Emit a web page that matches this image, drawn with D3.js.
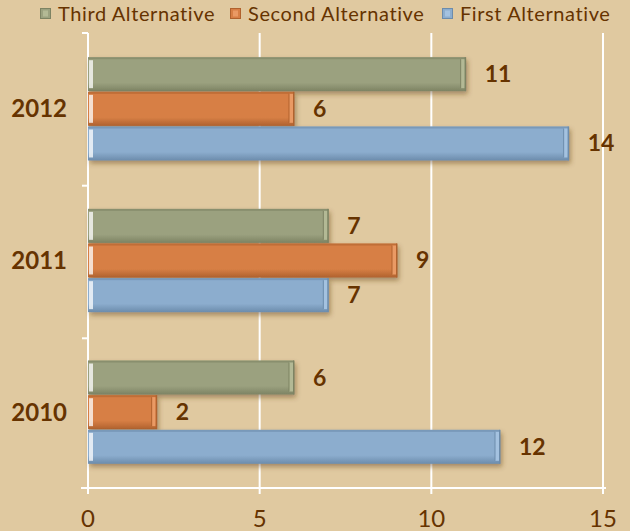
<!DOCTYPE html>
<html>
<head>
<meta charset="utf-8">
<script src="https://cdn.jsdelivr.net/npm/d3@7"></script>
<style>
  body { margin: 0; background: #e0c9a0; }
  svg { display: block; }
</style>
</head>
<body>
<div id="chart"></div>
<script>
var years = ['2012', '2011', '2010'];
var seriesNames = ['Third Alternative', 'Second Alternative', 'First Alternative'];
var thirdAlt = [11, 7, 6];
var secondAlt = [6, 9, 2];
var firstAlt = [14, 7, 12];
var xTicks = [0, 5, 10, 15];

var width = 630, height = 531;
var font = 'Lato, "DejaVu Sans", sans-serif';
var colors = {
  'Third Alternative': ['#b3b995', '#9ba17f', '#7d8363'],
  'Second Alternative': ['#ea9a64', '#d77f45', '#b0622e'],
  'First Alternative': ['#a4c2e0', '#8cadce', '#6c8cac']
};
var textCol = '#663300';

var svg = d3.select('#chart').append('svg')
            .attr('width', width)
            .attr('height', height);

var defs = svg.append('defs');
seriesNames.forEach(function(s, i) {
  var g = defs.append('linearGradient').attr('id', 'grad' + i)
              .attr('x1', 0).attr('y1', 0).attr('x2', 0).attr('y2', 1);
  g.append('stop').attr('offset', '0%').attr('stop-color', colors[s][1]);
  g.append('stop').attr('offset', '75%').attr('stop-color', colors[s][1]);
  g.append('stop').attr('offset', '100%').attr('stop-color', colors[s][2]);
});
var shadow = defs.append('filter').attr('id', 'shadow')
                 .attr('x', '-5%').attr('y', '-20%').attr('width', '115%').attr('height', '160%');
shadow.append('feDropShadow').attr('dx', 2).attr('dy', 3).attr('stdDeviation', 2.5)
      .attr('flood-color', '#5a3c14').attr('flood-opacity', 0.45);

var x = d3.scaleLinear().domain([0, 15]).range([88, 603]);
var y = d3.scaleBand().domain(years).range([33, 488]).paddingInner(0.31).paddingOuter(0.155);
var inner = d3.scaleBand().domain(seriesNames).range([0, y.bandwidth()]).padding(0.02);

var data = years.map(function(yr, i) {
  return { year: yr, values: [thirdAlt[i], secondAlt[i], firstAlt[i]] };
});

// grid
svg.append('g').selectAll('line').data(xTicks.slice(1)).enter().append('line')
   .attr('x1', function(d) { return x(d); }).attr('x2', function(d) { return x(d); })
   .attr('y1', 33).attr('y2', 494)
   .attr('stroke', '#ffffff').attr('stroke-width', 2);

// axes
svg.append('line').attr('x1', 81).attr('x2', 606).attr('y1', 488).attr('y2', 488)
   .attr('stroke', '#ffffff').attr('stroke-width', 2);
svg.append('line').attr('x1', x(0)).attr('x2', x(0)).attr('y1', 33).attr('y2', 494)
   .attr('stroke', '#ffffff').attr('stroke-width', 2);
// category ticks
svg.append('g').selectAll('line').data([33, 185.7, 338.3]).enter().append('line')
   .attr('x1', 82).attr('x2', 88)
   .attr('y1', function(d) { return d; }).attr('y2', function(d) { return d; })
   .attr('stroke', '#ffffff').attr('stroke-width', 2);

svg.append('g').selectAll('text').data(xTicks).enter().append('text')
   .attr('x', function(d) { return x(d); }).attr('y', 527)
   .attr('text-anchor', 'middle')
   .attr('font-family', font).attr('font-size', 24)
   .attr('fill', textCol)
   .text(function(d) { return d; });

// year labels
svg.append('g').selectAll('text').data(years).enter().append('text')
   .attr('x', 67).attr('y', function(d) { return y(d) + y.bandwidth() / 2 + 8.5; })
   .attr('text-anchor', 'end')
   .attr('font-family', font).attr('font-size', 24)
   .attr('font-weight', 'bold').attr('fill', textCol)
   .text(function(d) { return d; });

// bars
var groups = svg.append('g').selectAll('g').data(data).enter().append('g')
   .attr('transform', function(d) { return 'translate(0,' + y(d.year) + ')'; });

groups.each(function(d) {
  var grp = d3.select(this);
  d.values.forEach(function(v, i) {
    var s = seriesNames[i];
    var by = inner(s), bh = inner.bandwidth();
    var bw = x(v) - x(0);
    var b = grp.append('g');
    b.append('rect').attr('x', x(0)).attr('y', by).attr('width', bw).attr('height', bh)
     .attr('fill', 'url(#grad' + i + ')').attr('filter', 'url(#shadow)');
    b.append('rect').attr('x', x(0)).attr('y', by).attr('width', bw).attr('height', 2)
     .attr('fill', colors[s][2]).attr('opacity', 0.6);
    b.append('rect').attr('x', x(0) + 1).attr('y', by + 3).attr('width', 4).attr('height', bh - 6)
     .attr('fill', '#ffffff').attr('opacity', 0.75);
    b.append('rect').attr('x', x(v) - 5).attr('y', by + 2).attr('width', 4).attr('height', bh - 5)
     .attr('fill', colors[s][0]);
    b.append('line').attr('x1', x(v) - 5).attr('x2', x(v) - 5).attr('y1', by + 2).attr('y2', by + bh - 3)
     .attr('stroke', colors[s][2]).attr('stroke-width', 1);
    b.append('rect').attr('x', x(v) - 1).attr('y', by).attr('width', 1.5).attr('height', bh)
     .attr('fill', colors[s][2]);

    grp.append('text')
       .attr('x', x(v) + 19).attr('y', by + bh / 2 + 8)
       .attr('font-family', font).attr('font-size', 23)
       .attr('font-weight', 'bold').attr('fill', textCol)
       .text(v);
  });
});

// legend
var legendX = [40, 230, 442];
var legend = svg.append('g').selectAll('g').data(seriesNames).enter().append('g')
   .attr('transform', function(d, i) { return 'translate(' + legendX[i] + ',8)'; });
legend.append('rect').attr('x', 0.5).attr('y', 0.5).attr('width', 10).attr('height', 10)
   .attr('fill', function(d) { return colors[d][1]; })
   .attr('stroke', function(d) { return colors[d][2]; }).attr('stroke-width', 1);
legend.append('rect').attr('x', 3).attr('y', 2.5).attr('width', 5).attr('height', 6)
   .attr('fill', function(d) { return colors[d][0]; });
legend.append('text').attr('x', 18).attr('y', 13)
   .attr('font-family', font).attr('font-size', 20)
   .attr('letter-spacing', 0.6)
   .attr('fill', textCol)
   .text(function(d) { return d; });
</script>
</body>
</html>
